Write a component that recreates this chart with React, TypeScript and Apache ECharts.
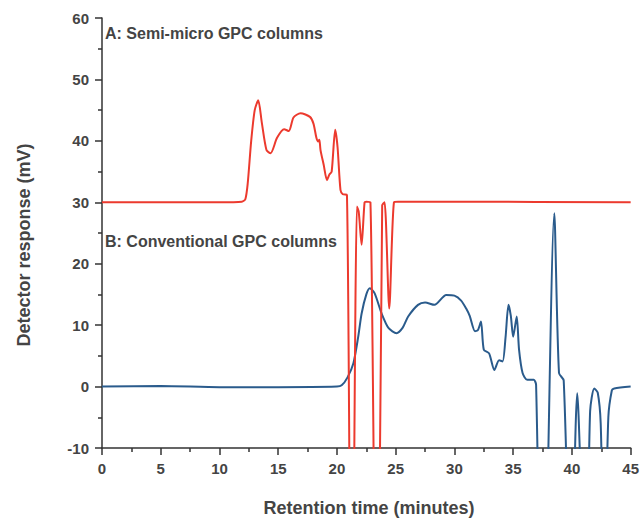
import React, { useEffect, useRef } from "react";
import * as echarts from "echarts";

// Retention time (min) / detector response (mV)
const seriesAX = [0, 5, 10, 11.9, 12.2, 12.4, 12.7, 13.0, 13.3, 13.6, 14.0, 14.35, 14.9, 15.5, 15.9, 16.3, 16.9, 17.7, 18.0, 18.25, 18.4, 18.5, 18.6, 18.87, 19.15, 19.35, 19.55, 19.85, 20.05, 20.3, 20.5, 20.85, 21.25, 21.7, 21.85, 22.1, 22.35, 22.5, 22.85, 23.4, 23.85, 24.05, 24.45, 24.85, 25.2, 30, 45];
const seriesAY = [30, 30, 30, 30.1, 30.5, 33, 40, 45, 46.6, 43, 38.5, 38, 40.5, 41.9, 41.6, 43.8, 44.5, 43.9, 42.8, 40.5, 39.9, 40.2, 38.5, 36.1, 33.6, 34.5, 35, 41.8, 39, 32, 31.3, 31.2, -60, 29.3, 28.5, 23.1, 30, 30.1, 30, -60, 29.5, 30, 12.7, 30, 30.1, 30.1, 30];

const seriesBX = [0, 5, 10, 15, 20, 20.4, 20.9, 21.4, 21.8, 22.1, 22.5, 22.8, 23.2, 23.8, 24.4, 25.07, 25.6, 26.06, 26.9, 27.5, 28.3, 29.3, 30.0, 30.57, 31.0, 31.3, 31.75, 32.0, 32.26, 32.5, 32.95, 33.4, 33.8, 34.1, 34.35, 34.6, 34.8, 35.0, 35.3, 35.5, 35.8, 36.2, 36.75, 36.95, 37.5, 38.5, 38.9, 39.3, 39.9, 40.45, 40.95, 41.25, 41.55, 41.9, 42.2, 42.45, 42.75, 43.1, 43.4, 43.6, 45];
const seriesBY = [0, 0.1, -0.1, -0.1, 0, 0.2, 1.5, 3.8, 8, 11.9, 15, 16, 15.2, 11.9, 9.5, 8.7, 9.6, 11.4, 13.3, 13.7, 13.3, 14.9, 14.8, 14.0, 12.7, 11.5, 9.0, 9.2, 10.6, 6.0, 5.4, 2.7, 4.3, 4.1, 8, 13.3, 11.5, 8.1, 11.4, 6, 2.2, 1.1, 1.1, 0.3, -50, 28.2, 2.2, 1.0, -35, -1.1, -25, -30, -4, -0.3, -1, -6, -30, -5, -0.6, -0.3, 0];

const xTicks = { min: 0, max: 45, interval: 5 };
const yTicks = { min: -10, max: 60, interval: 10 };

const annotationA = "A: Semi-micro GPC columns";
const annotationB = "B: Conventional GPC columns";
const xTitle = "Retention time (minutes)";
const yTitle = "Detector response (mV)";

const zip = (xs: number[], ys: number[]) => xs.map((x, i) => [x, ys[i]]);

const font = "'Liberation Sans', Arial, sans-serif";
const textColor = "#444444";

export default function App() {
  const ref = useRef<HTMLDivElement>(null);
  useEffect(() => {
    if (!ref.current) return;
    const chart = echarts.init(ref.current, undefined, { renderer: "svg" });
    const axisColor = "#333";
    const axisCommon = {
      type: "value",
      axisLine: { show: true, onZero: false, lineStyle: { color: axisColor, width: 1.5 } },
      axisTick: { show: true, length: 7, lineStyle: { color: axisColor, width: 1.5 } },
      minorTick: { show: true, splitNumber: 2, length: 4, lineStyle: { color: axisColor, width: 1.5 } },
      splitLine: { show: false },
      axisLabel: { color: textColor, fontSize: 15, fontWeight: "bold", fontFamily: font, margin: 13 },
    };
    chart.setOption({
      animation: false,
      backgroundColor: "#ffffff",
      grid: { left: 102, right: 8, top: 18, bottom: 71, containLabel: false },
      xAxis: { ...axisCommon, min: xTicks.min, max: xTicks.max, interval: xTicks.interval },
      yAxis: { ...axisCommon, min: yTicks.min, max: yTicks.max, interval: yTicks.interval },
      series: [
        {
          type: "line",
          data: zip(seriesAX, seriesAY),
          showSymbol: false,
          smooth: 0.25,
          clip: true,
          lineStyle: { color: "#ec3a2e", width: 2 },
          z: 3,
        },
        {
          type: "line",
          data: zip(seriesBX, seriesBY),
          showSymbol: false,
          smooth: 0.25,
          clip: true,
          lineStyle: { color: "#2a5b8c", width: 2 },
          z: 2,
        },
      ],
      graphic: [
        {
          type: "text",
          x: 105,
          y: 33,
          style: { text: annotationA, fontSize: 16, fontWeight: "bold", fontFamily: font, fill: textColor, align: "left", verticalAlign: "middle" },
        },
        {
          type: "text",
          x: 105,
          y: 241,
          style: { text: annotationB, fontSize: 16, fontWeight: "bold", fontFamily: font, fill: textColor, align: "left", verticalAlign: "middle" },
        },
        {
          type: "text",
          x: 369,
          y: 508,
          style: { text: xTitle, fontSize: 18, fontWeight: "bold", fontFamily: font, fill: textColor, align: "center", verticalAlign: "middle" },
        },
        {
          type: "text",
          x: 24,
          y: 245,
          rotation: Math.PI / 2,
          style: { text: yTitle, fontSize: 18, fontWeight: "bold", fontFamily: font, fill: textColor, align: "center", verticalAlign: "middle" },
        },
      ],
    });
    return () => chart.dispose();
  }, []);
  return <div ref={ref} style={{ position: "absolute", left: 0, top: 0, width: 642, height: 519 }} />;
}
